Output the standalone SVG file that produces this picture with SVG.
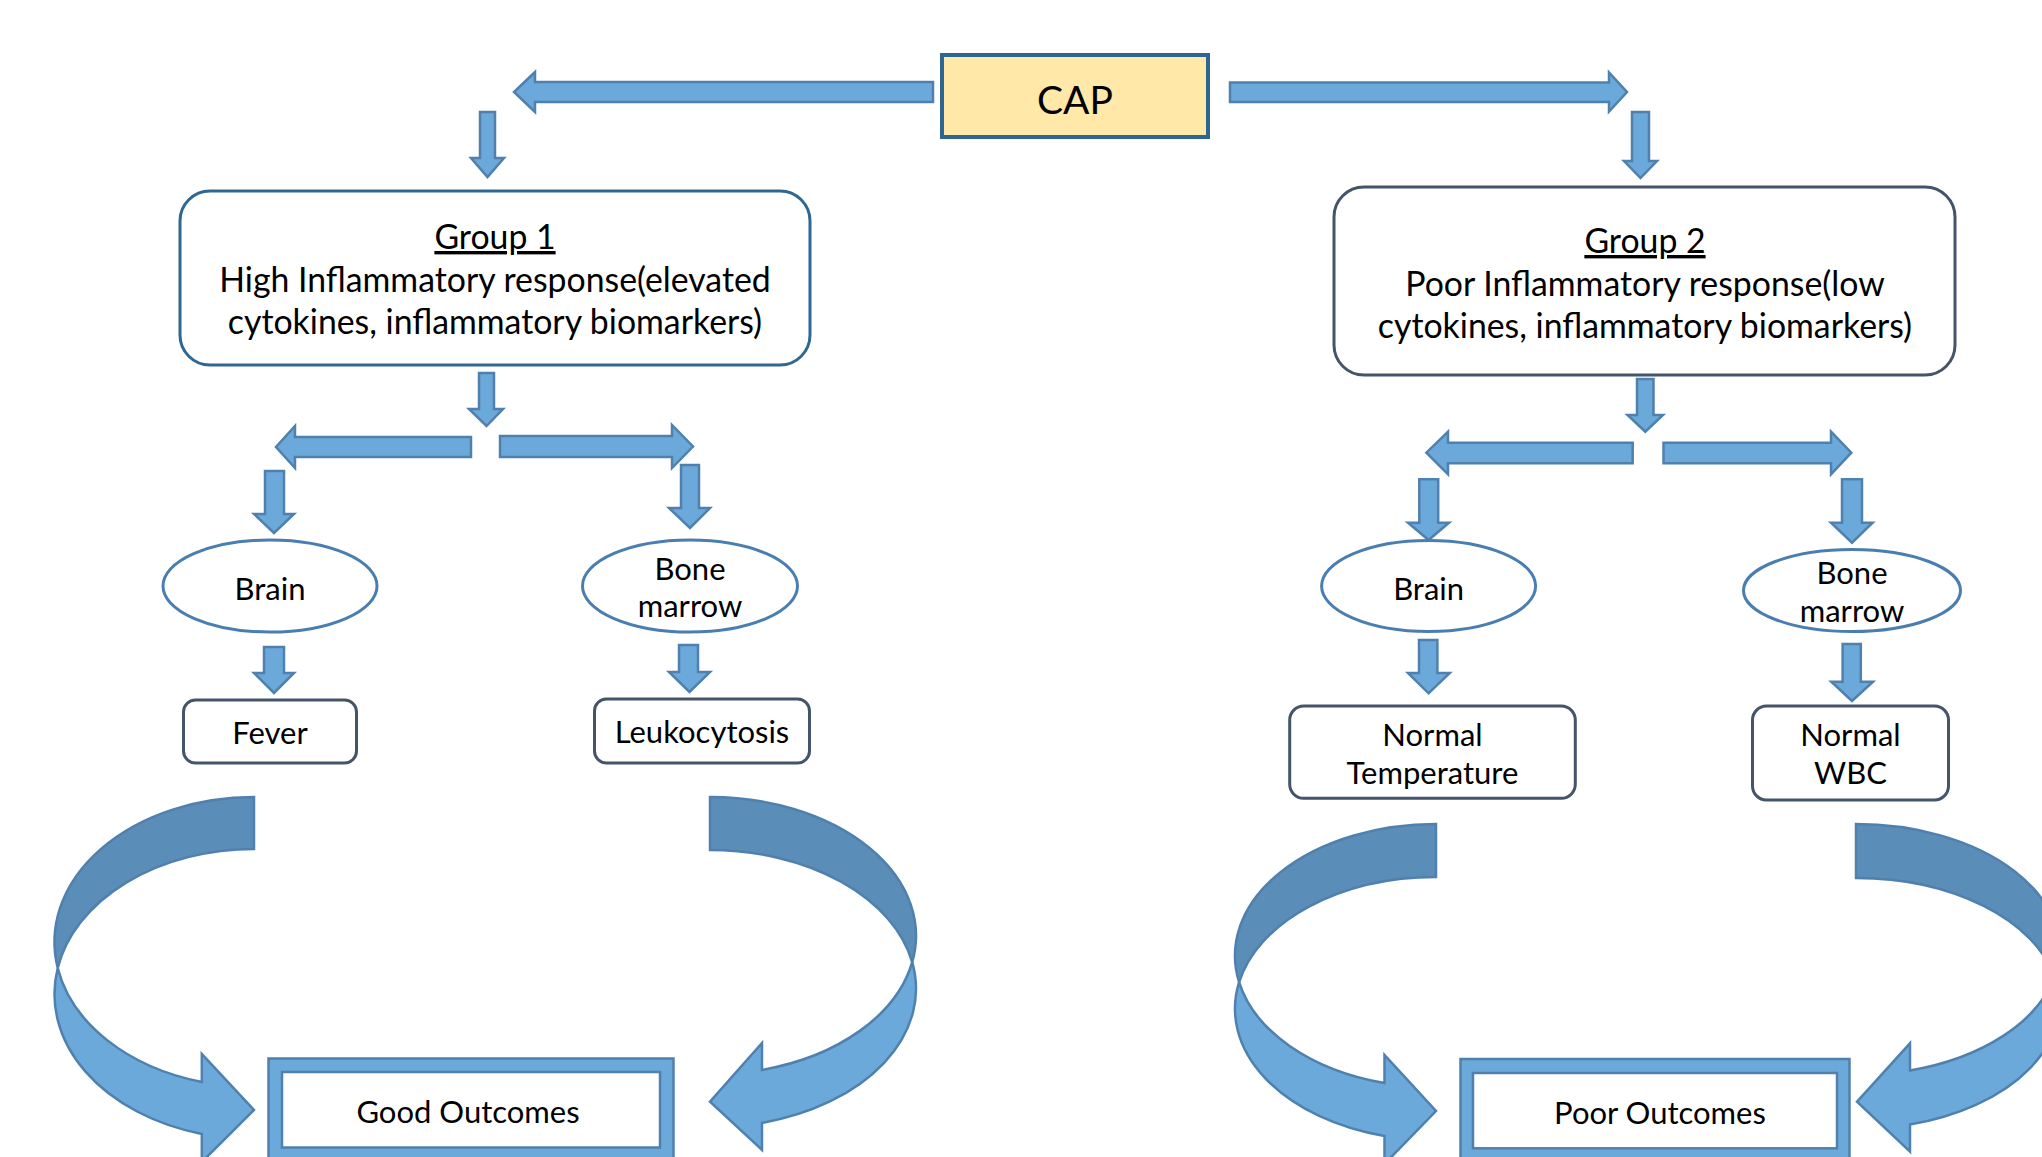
<svg xmlns="http://www.w3.org/2000/svg" width="2042" height="1157" viewBox="0 0 2042 1157">
<style>
  text { font-family: Lato, "Liberation Sans", sans-serif; fill: #000; text-anchor: middle; }
  .big { font-size: 33.8px; }
  .lbl { font-size: 31px; }
  .cap { font-size: 39px; }
  .arr { fill: #6AA9DA; stroke: #4F80AE; stroke-width: 2.5; stroke-linejoin: miter; }
  .back { fill: #5A8DB8; stroke: #4F80AE; stroke-width: 2.5; }
  .front { fill: #6AA9DA; stroke: #4F80AE; stroke-width: 2.5; }
  .grp1 { fill: #fff; stroke: #2E6892; stroke-width: 3; }
  .grp2 { fill: #fff; stroke: #44546A; stroke-width: 3; }
  .ell { fill: #fff; stroke: #4A7EB0; stroke-width: 3; }
  .box { fill: #fff; stroke: #44546A; stroke-width: 3; }
  .frameO { fill: #6AA9DA; stroke: #4F80AE; stroke-width: 2.5; }
  .frameI { fill: #fff; stroke: #4F80AE; stroke-width: 2.5; }
</style>
<rect width="2042" height="1157" fill="#fff"/>

<g id="connectors">
  <!-- top arrows from CAP -->
  <polygon class="arr" points="933,82 535,82 535,72 514,92 535,112 535,102 933,102"/>
  <polygon class="arr" points="1230,82.5 1609,82.5 1609,72.5 1627,92 1609,111.5 1609,102 1230,102"/>
  <polygon class="arr" points="480,112 495,112 495,158 504,158 487.5,177 471,158 480,158"/>
  <polygon class="arr" points="1632,112 1649,112 1649,161 1657,161 1640.5,178 1624,161 1632,161"/>

  <!-- group 1 branch -->
  <polygon class="arr" points="479,373 494,373 494,409 503,409 486.5,426 469,409 479,409"/>
  <polygon class="arr" points="471,437 295,437 295,426 276,447 295,468 295,457 471,457"/>
  <polygon class="arr" points="500,436 672,436 672,425 693,446.5 672,468 672,457 500,457"/>
  <polygon class="arr" points="265,471 284,471 284,514 294,514 274,533 254,514 265,514"/>
  <polygon class="arr" points="681,465 699,465 699,508 710,508 690,528 669,508 681,508"/>
  <polygon class="arr" points="264,647 284,647 284,673 294,673 274,693 254,673 264,673"/>
  <polygon class="arr" points="679,645 698,645 698,672 710,672 689.5,692 669,672 679,672"/>

  <!-- group 2 branch -->
  <polygon class="arr" points="1637,379 1653.5,379 1653.5,415 1663,415 1645.3,431.7 1627.5,415 1637,415"/>
  <polygon class="arr" points="1632.7,442.7 1448,442.7 1448,431.7 1426.4,452.7 1448,474.3 1448,463.3 1632.7,463.3"/>
  <polygon class="arr" points="1663.5,442.7 1831,442.7 1831,431.7 1851.3,452.7 1831,474.3 1831,463.3 1663.5,463.3"/>
  <polygon class="arr" points="1419.3,479.3 1438.2,479.3 1438.2,522.7 1449,522.7 1428.6,540 1408,522.7 1419.3,522.7"/>
  <polygon class="arr" points="1842,479.3 1862,479.3 1862,522.7 1872.6,522.7 1852,542.7 1831,522.7 1842,522.7"/>
  <polygon class="arr" points="1419,640 1437.4,640 1437.4,673 1449.7,673 1428.6,693.3 1408,673 1419,673"/>
  <polygon class="arr" points="1842.6,644 1860.8,644 1860.8,681.7 1873,681.7 1852,701 1831.3,681.7 1842.6,681.7"/>

  <!-- curved arrows group 1 -->
  <path class="back" d="M254,797 A199.5 145 0 0 0 57.73,968 A199.5 145 0 0 1 254,849 Z"/>
  <path class="front" d="M57.73,968 A199.5 145 0 0 0 201.8,1133.95 L201.8,1162 L254,1110 L201.8,1054 L201.8,1081.95 A199.5 145 0 0 1 57.73,968 Z"/>
  <path class="back" d="M710,797 A206 138.7 0 0 1 912.2,962.2 A206 138.7 0 0 0 710,850 Z"/>
  <path class="front" d="M912.2,962.2 A206 138.7 0 0 1 762,1122.9 L762,1150 L710,1101.7 L762,1043 L762,1069.9 A206 138.7 0 0 0 912.2,962.2 Z"/>

  <!-- curved arrows group 2 -->
  <path class="back" d="M1436,824 A201 131.7 0 0 0 1239.1,982.2 A201 131.7 0 0 1 1436,877 Z"/>
  <path class="front" d="M1239.1,982.2 A201 131.7 0 0 0 1384.5,1136 L1384.5,1164 L1436,1111 L1384.5,1055 L1384.5,1083 A201 131.7 0 0 1 1239.1,982.2 Z"/>
  <path class="back" d="M1856,824 A203 125.5 0 0 1 2054.2,976.5 A203 125.5 0 0 0 1856,878 Z"/>
  <path class="front" d="M2054.2,976.5 A203 125.5 0 0 1 1910,1124.5 L1910,1151.7 L1857,1101.7 L1910,1043.3 L1910,1070.5 A203 125.5 0 0 0 2054.2,976.5 Z"/>
</g>

<g id="cap">
  <rect x="942" y="55" width="266" height="82" fill="#FFE8A8" stroke="#2D6690" stroke-width="4"/>
  <text class="cap" x="1075" y="114">CAP</text>
</g>

<g id="group1">
  <rect class="grp1" x="180" y="191" width="630" height="174" rx="30" ry="30"/>
  <text class="big" x="495" y="249" text-decoration="underline">Group 1</text>
  <text class="big" x="495" y="292">High Inflammatory response(elevated</text>
  <text class="big" x="495" y="334">cytokines, inflammatory biomarkers)</text>
</g>

<g id="group2">
  <rect class="grp2" x="1334" y="187" width="621" height="188" rx="30" ry="30"/>
  <text class="big" x="1645" y="253" text-decoration="underline">Group 2</text>
  <text class="big" x="1645" y="296">Poor Inflammatory response(low</text>
  <text class="big" x="1645" y="338">cytokines, inflammatory biomarkers)</text>
</g>

<g id="brain1">
  <ellipse class="ell" cx="270" cy="586" rx="107" ry="46"/>
  <text class="lbl" x="270" y="600">Brain</text>
</g>
<g id="bone1">
  <ellipse class="ell" cx="690" cy="586" rx="107.5" ry="46"/>
  <text class="lbl" x="690" y="580">Bone</text>
  <text class="lbl" x="690" y="617">marrow</text>
</g>
<g id="brain2">
  <ellipse class="ell" cx="1428.6" cy="586" rx="107" ry="45.6"/>
  <text class="lbl" x="1428.6" y="600">Brain</text>
</g>
<g id="bone2">
  <ellipse class="ell" cx="1852" cy="590.5" rx="108.5" ry="41"/>
  <text class="lbl" x="1852" y="584">Bone</text>
  <text class="lbl" x="1852" y="622">marrow</text>
</g>

<g id="fever">
  <rect class="box" x="183.5" y="700" width="173" height="63" rx="12" ry="12"/>
  <text class="lbl" x="270" y="744">Fever</text>
</g>
<g id="leukocytosis">
  <rect class="box" x="594.5" y="699" width="215" height="64" rx="12" ry="12"/>
  <text class="lbl" x="702" y="743">Leukocytosis</text>
</g>
<g id="normaltemp">
  <rect class="box" x="1289.7" y="706" width="285.6" height="92.3" rx="14" ry="14"/>
  <text class="lbl" x="1432.5" y="746">Normal</text>
  <text class="lbl" x="1432.5" y="784">Temperature</text>
</g>
<g id="normalwbc">
  <rect class="box" x="1752.5" y="706" width="196" height="94" rx="14" ry="14"/>
  <text class="lbl" x="1850.5" y="746">Normal</text>
  <text class="lbl" x="1850.5" y="784">WBC</text>
</g>

<g id="goodoutcomes">
  <rect class="frameO" x="268.5" y="1058.5" width="405" height="110"/>
  <rect class="frameI" x="282" y="1072" width="378" height="75.5"/>
  <text class="lbl" x="468" y="1123">Good Outcomes</text>
</g>
<g id="pooroutcomes">
  <rect class="frameO" x="1460.5" y="1059" width="389" height="110"/>
  <rect class="frameI" x="1473" y="1073" width="364" height="75.3"/>
  <text class="lbl" x="1660" y="1123.5">Poor Outcomes</text>
</g>
</svg>
